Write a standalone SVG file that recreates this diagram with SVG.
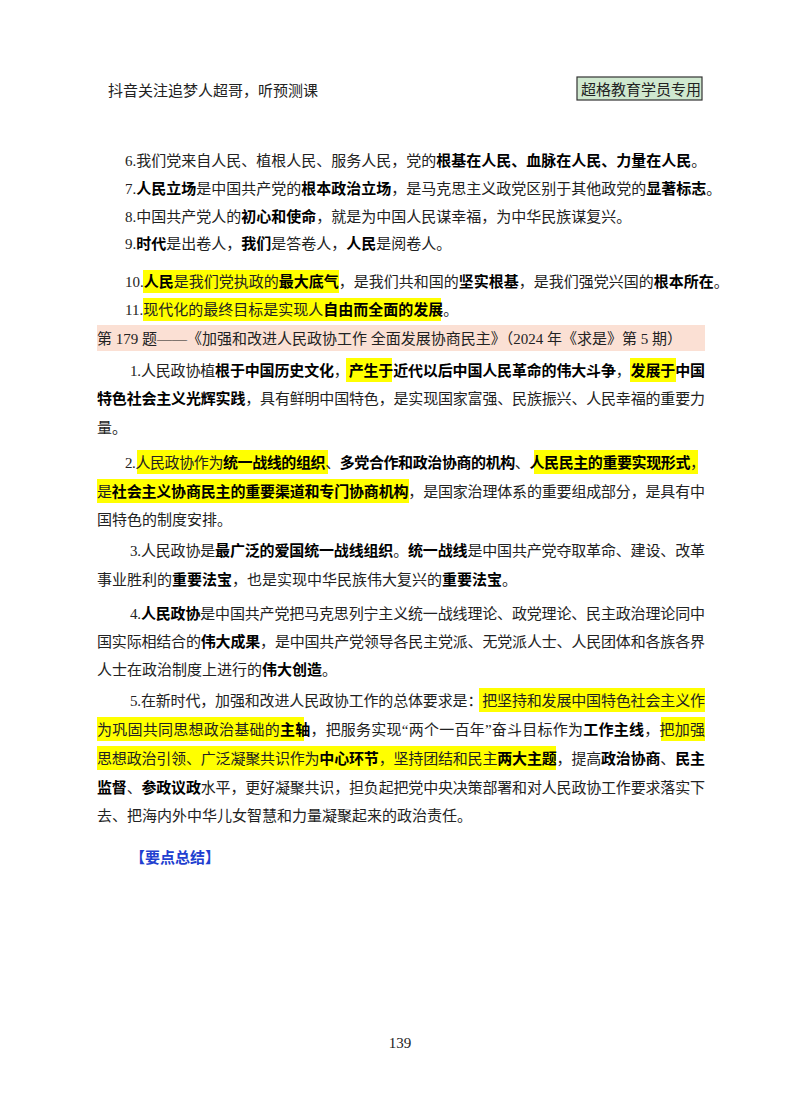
<svg xmlns="http://www.w3.org/2000/svg" width="800" height="1114" viewBox="0 0 800 1114">
<style>
text{font-family:"Liberation Serif","Noto Sans CJK SC",serif;font-size:15px;fill:#222}
.b{font-weight:700;fill:#000}
.hl{fill:#ffff00}
</style>
<rect width="800" height="1114" fill="#fff"/>
<text x="108" y="96" font-size="15">抖音关注追梦人超哥，听预测课</text>
<rect x="577" y="77" width="125" height="23" fill="#cfe8cf" stroke="#333" stroke-width="1.2"/>
<text x="581" y="95" font-size="16">超格教育学员专用</text>
<g id="hl">
<rect class="hl" x="143" y="270" width="196" height="23"/>
<rect class="hl" x="143" y="298" width="298" height="23"/>
<rect x="97" y="325" width="608" height="26" fill="#fbe0d4"/>
<rect class="hl" x="346" y="358" width="46" height="24"/>
<rect class="hl" x="630" y="358" width="46" height="24"/>
<rect class="hl" x="137" y="450" width="191" height="24"/>
<rect class="hl" x="534" y="450" width="164" height="24"/>
<rect class="hl" x="97" y="479" width="312" height="24"/>
<rect class="hl" x="479" y="688" width="226" height="24"/>
<rect class="hl" x="97" y="717" width="207" height="24"/>
<rect class="hl" x="661" y="717" width="44" height="24"/>
<rect class="hl" x="97" y="746" width="459" height="24"/>
</g>
<text x="125" y="166">6.我们党来自人民、植根人民、服务人民，党的<tspan class="b">根基在人民、血脉在人民、力量在人民</tspan>。</text>
<text x="125" y="194">7.<tspan class="b">人民立场</tspan>是中国共产党的<tspan class="b">根本政治立场</tspan>，是马克思主义政党区别于其他政党的<tspan class="b">显著标志</tspan>。</text>
<text x="125" y="222">8.中国共产党人的<tspan class="b">初心和使命</tspan>，就是为中国人民谋幸福，为中华民族谋复兴。</text>
<text x="125" y="249">9.<tspan class="b">时代</tspan>是出卷人，<tspan class="b">我们</tspan>是答卷人，<tspan class="b">人民</tspan>是阅卷人。</text>
<text x="125" y="287">10.<tspan class="b">人民</tspan>是我们党执政的<tspan class="b">最大底气</tspan>，是我们共和国的<tspan class="b">坚实根基</tspan>，是我们强党兴国的<tspan class="b">根本所在</tspan>。</text>
<text x="125" y="315">11.现代化的最终目标是实现人<tspan class="b">自由而全面的发展</tspan>。</text>
<text x="97" y="344">第 179 题——《加强和改进人民政协工作 全面发展协商民主》（2024 年《求是》第 5 期）</text>
<text x="130" y="376" textLength="575" lengthAdjust="spacing">1.人民政协植<tspan class="b">根于中国历史文化</tspan>，<tspan class="b">产生于</tspan><tspan class="b">近代以后中国人民革命的伟大斗争</tspan>，<tspan class="b">发展于</tspan><tspan class="b">中国</tspan></text>
<text x="97" y="404" textLength="608" lengthAdjust="spacing"><tspan class="b">特色社会主义光辉实践</tspan>，具有鲜明中国特色，是实现国家富强、民族振兴、人民幸福的重要力</text>
<text x="97" y="433">量。</text>
<text x="125" y="468" textLength="580" lengthAdjust="spacing">2.人民政协作为<tspan class="b">统一战线的组织</tspan>、<tspan class="b">多党合作和政治协商的机构</tspan>、<tspan class="b">人民民主的重要实现形式</tspan>，</text>
<text x="97" y="497" textLength="608" lengthAdjust="spacing">是<tspan class="b">社会主义协商民主的重要渠道和专门协商机构</tspan>，是国家治理体系的重要组成部分，是具有中</text>
<text x="97" y="525">国特色的制度安排。</text>
<text x="130" y="556" textLength="575" lengthAdjust="spacing">3.人民政协是<tspan class="b">最广泛的爱国统一战线组织</tspan>。<tspan class="b">统一战线</tspan>是中国共产党夺取革命、建设、改革</text>
<text x="97" y="585">事业胜利的<tspan class="b">重要法宝</tspan>，也是实现中华民族伟大复兴的<tspan class="b">重要法宝</tspan>。</text>
<text x="130" y="619" textLength="575" lengthAdjust="spacing">4.<tspan class="b">人民政协</tspan>是中国共产党把马克思列宁主义统一战线理论、政党理论、民主政治理论同中</text>
<text x="97" y="647" textLength="608" lengthAdjust="spacing">国实际相结合的<tspan class="b">伟大成果</tspan>，是中国共产党领导各民主党派、无党派人士、人民团体和各族各界</text>
<text x="97" y="675">人士在政治制度上进行的<tspan class="b">伟大创造</tspan>。</text>
<text x="130" y="706" textLength="575" lengthAdjust="spacing">5.在新时代，加强和改进人民政协工作的总体要求是：把坚持和发展中国特色社会主义作</text>
<text x="97" y="735" textLength="608" lengthAdjust="spacing">为巩固共同思想政治基础的<tspan class="b">主轴</tspan>，把服务实现“两个一百年”奋斗目标作为<tspan class="b">工作主线</tspan>，把加强</text>
<text x="97" y="764" textLength="608" lengthAdjust="spacing">思想政治引领、广泛凝聚共识作为<tspan class="b">中心环节</tspan>，坚持团结和民主<tspan class="b">两大主题</tspan>，提高<tspan class="b">政治协商</tspan>、<tspan class="b">民主</tspan></text>
<text x="97" y="793" textLength="608" lengthAdjust="spacing"><tspan class="b">监督</tspan>、<tspan class="b">参政议政</tspan>水平，更好凝聚共识，担负起把党中央决策部署和对人民政协工作要求落实下</text>
<text x="97" y="821">去、把海内外中华儿女智慧和力量凝聚起来的政治责任。</text>
<text x="130" y="863" style="fill:#1f3fd0;font-weight:700;font-family:'Noto Sans CJK SC',sans-serif">【要点总结】</text>
<text x="400" y="1048" text-anchor="middle" font-size="14">139</text>
</svg>
